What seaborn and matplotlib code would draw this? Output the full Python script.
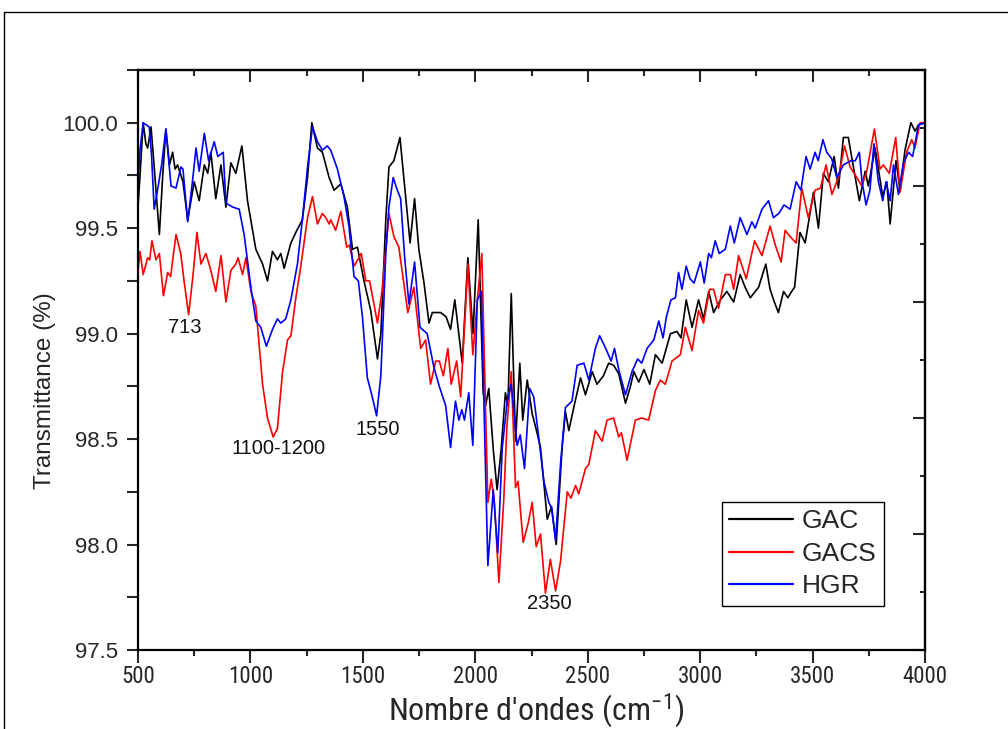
import numpy as np
import pandas as pd
import matplotlib
matplotlib.use("Agg")
import matplotlib.pyplot as plt
from matplotlib import font_manager
from matplotlib.lines import Line2D
from matplotlib.ticker import MultipleLocator, NullFormatter
import seaborn as sns

# ---------------- data ----------------
gac_x = [500, 509, 523, 535, 543, 558, 575, 595, 610, 624, 640, 654, 665, 676, 700, 721, 750, 772, 795, 810,
         824, 846, 869, 891, 913, 935, 962, 987, 1024, 1054, 1076, 1098, 1120, 1135, 1150, 1180, 1202, 1231,
         1254, 1273, 1298, 1320, 1350, 1372, 1402, 1431, 1454, 1476, 1505, 1535, 1565, 1580, 1602, 1616,
         1638, 1665, 1683, 1710, 1730, 1749, 1772, 1794, 1809, 1846, 1870, 1890, 1909, 1942, 1967, 1990,
         2013, 2035, 2046, 2060, 2080, 2097, 2115, 2134, 2145, 2160, 2179, 2198, 2211, 2231, 2253, 2270,
         2290, 2320, 2339, 2360, 2386, 2401, 2416, 2440, 2468, 2490, 2520, 2541, 2570, 2593, 2615, 2638,
         2668, 2690, 2705, 2727, 2750, 2776, 2801, 2831, 2868, 2897, 2915, 2938, 2964, 2993, 3015, 3038,
         3060, 3090, 3119, 3149, 3178, 3200, 3223, 3260, 3292, 3311, 3330, 3348, 3371, 3390, 3407, 3420,
         3444, 3467, 3504, 3526, 3548, 3570, 3596, 3615, 3637, 3659, 3680, 3708, 3734, 3748, 3778, 3812,
         3830, 3845, 3871, 3889, 3911, 3937, 3956, 3971, 4000]
gac_y = [99.60, 99.75, 100.0, 99.90, 99.88, 99.98, 99.75, 99.47, 99.75, 99.97, 99.80, 99.86, 99.78, 99.80,
         99.72, 99.54, 99.72, 99.63, 99.80, 99.76, 99.86, 99.64, 99.80, 99.60, 99.81, 99.76, 99.89, 99.63,
         99.40, 99.33, 99.25, 99.39, 99.35, 99.38, 99.31, 99.43, 99.48, 99.54, 99.74, 100.0, 99.88, 99.86,
         99.74, 99.68, 99.71, 99.60, 99.40, 99.41, 99.25, 99.11, 98.88, 99.00, 99.54, 99.79, 99.82, 99.93,
         99.73, 99.43, 99.64, 99.40, 99.24, 99.05, 99.10, 99.10, 99.08, 99.02, 99.16, 98.86, 99.36, 99.00,
         99.54, 98.72, 98.66, 98.74, 98.45, 98.26, 98.45, 98.72, 98.66, 99.19, 98.49, 98.86, 98.59, 98.78,
         98.62, 98.55, 98.46, 98.12, 98.18, 98.00, 98.46, 98.63, 98.54, 98.66, 98.79, 98.71, 98.82, 98.76,
         98.80, 98.86, 98.85, 98.81, 98.67, 98.75, 98.82, 98.77, 98.83, 98.76, 98.90, 98.86, 99.00, 99.01,
         98.98, 99.16, 99.03, 99.16, 99.07, 99.20, 99.10, 99.16, 99.20, 99.15, 99.28, 99.22, 99.17, 99.22,
         99.33, 99.21, 99.15, 99.10, 99.20, 99.17, 99.20, 99.22, 99.48, 99.43, 99.67, 99.50, 99.76, 99.72,
         99.84, 99.69, 99.93, 99.93, 99.80, 99.63, 99.77, 99.70, 99.88, 99.65, 99.72, 99.52, 99.82, 99.68,
         99.87, 100.0, 99.96, 99.99, 100.0]

gacs_x = [500, 509, 523, 543, 552, 562, 580, 595, 613, 632, 645, 669, 690, 706, 725, 745, 762, 780, 802,
          824, 846, 869, 891, 913, 935, 945, 965, 980, 1002, 1024, 1054, 1076, 1101, 1120, 1143, 1165, 1180,
          1202, 1224, 1254, 1276, 1298, 1320, 1335, 1350, 1357, 1379, 1402, 1428, 1440, 1461, 1493, 1513,
          1530, 1565, 1585, 1616, 1638, 1660, 1700, 1727, 1757, 1779, 1801, 1824, 1840, 1858, 1878, 1893,
          1917, 1935, 1967, 1989, 2009, 2029, 2042, 2056, 2071, 2085, 2105, 2127, 2140, 2160, 2179, 2190,
          2213, 2235, 2253, 2271, 2290, 2312, 2334, 2357, 2379, 2409, 2425, 2446, 2460, 2490, 2505, 2534,
          2564, 2586, 2615, 2638, 2650, 2675, 2712, 2740, 2771, 2801, 2823, 2845, 2875, 2912, 2934, 2964,
          2993, 3015, 3042, 3060, 3082, 3112, 3135, 3149, 3171, 3205, 3242, 3275, 3311, 3334, 3360, 3378,
          3400, 3427, 3452, 3481, 3511, 3535, 3560, 3586, 3615, 3642, 3667, 3697, 3719, 3741, 3775, 3800,
          3815, 3841, 3870, 3889, 3918, 3941, 3955, 3978, 4000]
gacs_y = [99.30, 99.39, 99.28, 99.36, 99.35, 99.44, 99.35, 99.38, 99.18, 99.29, 99.27, 99.47, 99.38, 99.24,
          99.09, 99.28, 99.48, 99.33, 99.38, 99.30, 99.20, 99.37, 99.15, 99.30, 99.33, 99.36, 99.28, 99.36,
          99.20, 99.13, 98.76, 98.60, 98.51, 98.55, 98.82, 98.97, 98.99, 99.17, 99.32, 99.55, 99.65, 99.52,
          99.57, 99.55, 99.52, 99.54, 99.49, 99.58, 99.41, 99.42, 99.32, 99.38, 99.25, 99.25, 99.05, 99.20,
          99.57, 99.46, 99.41, 99.10, 99.22, 98.93, 98.97, 98.76, 98.87, 98.87, 98.80, 98.93, 98.76, 98.87,
          98.70, 99.33, 98.90, 99.16, 99.38, 98.80, 98.20, 98.31, 98.20, 97.82, 98.22, 98.55, 98.82, 98.27,
          98.30, 98.01, 98.10, 98.20, 97.99, 98.05, 97.77, 97.93, 97.78, 97.92, 98.25, 98.22, 98.28, 98.24,
          98.36, 98.38, 98.54, 98.49, 98.59, 98.60, 98.51, 98.53, 98.40, 98.59, 98.60, 98.59, 98.73, 98.78,
          98.76, 98.87, 98.90, 99.03, 98.92, 99.11, 99.05, 99.21, 99.21, 99.12, 99.28, 99.28, 99.21, 99.37,
          99.26, 99.44, 99.37, 99.51, 99.42, 99.34, 99.49, 99.46, 99.43, 99.69, 99.55, 99.68, 99.69, 99.80,
          99.66, 99.74, 99.89, 99.79, 99.74, 99.70, 99.77, 99.97, 99.78, 99.80, 99.76, 99.93, 99.67, 99.86,
          99.92, 99.88, 100.0, 100.0]

hgr_x = [500, 509, 523, 550, 560, 572, 590, 605, 624, 647, 669, 691, 700, 721, 740, 758, 772, 795, 814,
         839, 855, 879, 891, 905, 921, 950, 972, 1002, 1024, 1046, 1071, 1098, 1120, 1135, 1157, 1180, 1209,
         1231, 1254, 1276, 1298, 1320, 1342, 1357, 1387, 1416, 1438, 1461, 1480, 1498, 1520, 1542, 1561,
         1580, 1602, 1616, 1635, 1650, 1668, 1686, 1705, 1730, 1754, 1786, 1816, 1840, 1868, 1890, 1912,
         1927, 1940, 1952, 1971, 1989, 2009, 2027, 2040, 2056, 2080, 2100, 2120, 2142, 2160, 2186, 2200,
         2219, 2242, 2260, 2282, 2305, 2327, 2340, 2357, 2379, 2401, 2430, 2453, 2483, 2505, 2534, 2553,
         2580, 2604, 2619, 2640, 2668, 2697, 2722, 2740, 2764, 2794, 2816, 2835, 2850, 2870, 2890, 2904,
         2919, 2938, 2955, 2973, 3001, 3018, 3038, 3050, 3067, 3085, 3112, 3134, 3152, 3178, 3208, 3230,
         3245, 3275, 3304, 3326, 3350, 3373, 3400, 3427, 3448, 3471, 3489, 3511, 3525, 3546, 3563, 3585,
         3608, 3637, 3670, 3690, 3708, 3720, 3738, 3755, 3773, 3793, 3812, 3827, 3845, 3860, 3882, 3904,
         3927, 3945, 3971, 4000]
hgr_y = [99.70, 99.87, 100.0, 99.98, 99.85, 99.59, 99.70, 99.80, 99.97, 99.70, 99.69, 99.79, 99.78, 99.53,
         99.70, 99.88, 99.77, 99.95, 99.82, 99.91, 99.84, 99.86, 99.62, 99.61, 99.60, 99.59, 99.47, 99.22,
         99.06, 99.03, 98.94, 99.02, 99.07, 99.05, 99.07, 99.16, 99.33, 99.54, 99.79, 99.98, 99.91, 99.87,
         99.89, 99.87, 99.78, 99.65, 99.51, 99.27, 99.25, 99.08, 98.79, 98.70, 98.61, 98.80, 99.38, 99.60,
         99.74, 99.69, 99.64, 99.36, 99.14, 99.34, 99.03, 99.00, 98.84, 98.75, 98.66, 98.46, 98.68, 98.59,
         98.64, 98.59, 98.72, 98.47, 99.16, 99.20, 98.60, 97.90, 98.26, 97.96, 98.46, 98.68, 98.76, 98.47,
         98.52, 98.36, 98.74, 98.70, 98.51, 98.30, 98.20, 98.17, 98.02, 98.38, 98.65, 98.68, 98.85, 98.86,
         98.78, 98.93, 98.99, 98.93, 98.87, 98.93, 98.82, 98.71, 98.82, 98.88, 98.86, 98.93, 98.97, 99.06,
         98.98, 99.08, 99.16, 99.17, 99.29, 99.21, 99.32, 99.26, 99.24, 99.34, 99.24, 99.38, 99.36, 99.44,
         99.38, 99.40, 99.51, 99.43, 99.55, 99.47, 99.53, 99.50, 99.59, 99.63, 99.55, 99.57, 99.61, 99.59,
         99.72, 99.68, 99.84, 99.78, 99.86, 99.82, 99.92, 99.86, 99.83, 99.74, 99.80, 99.82, 99.82, 99.86,
         99.72, 99.61, 99.68, 99.90, 99.72, 99.63, 99.72, 99.63, 99.80, 99.66, 99.81, 99.86, 99.84, 99.99,
         100.0]

series_names = ["GAC", "GACS", "HGR"]
series_colors = ["black", "red", "blue"]

annot_text = ["713", "1100-1200", "1550", "2350"]
annot_x = [709, 1127, 1567, 2328]
annot_y = [99.03, 98.455, 98.545, 97.72]

x_ticks = [500, 1000, 1500, 2000, 2500, 3000, 3500, 4000]
y_ticks = [97.5, 98.0, 98.5, 99.0, 99.5, 100.0]

# ---------------- style ----------------
sns.set_style("white")
names = {f.name for f in font_manager.fontManager.ttflist}
regular = "Liberation Sans" if "Liberation Sans" in names else "DejaVu Sans"
narrow = None
for cand in ["Liberation Sans Narrow", "Arial Narrow", "Roboto Condensed", "DejaVu Sans Condensed",
             "Open Sans Condensed", "Noto Sans Condensed"]:
    if cand in names:
        narrow = cand
        break
plt.rcParams["font.family"] = [regular, "DejaVu Sans"]
plt.rcParams["mathtext.default"] = "regular"

if narrow is None:
    narrow_family = regular
    xtick_size, xlabel_size = 15, 21
else:
    narrow_family = narrow
    xtick_size, xlabel_size = 16.5, 23

df = pd.concat([
    pd.DataFrame({"x": gac_x, "y": gac_y, "s": "GAC"}),
    pd.DataFrame({"x": gacs_x, "y": gacs_y, "s": "GACS"}),
    pd.DataFrame({"x": hgr_x, "y": hgr_y, "s": "HGR"}),
], ignore_index=True)

fig = plt.figure(figsize=(10.08, 7.29), dpi=100)
ax = fig.add_axes([138 / 1008, 1 - 650 / 729, 787 / 1008, 580 / 729])

sns.lineplot(data=df, x="x", y="y", hue="s", hue_order=series_names,
             palette=dict(zip(series_names, series_colors)), estimator=None,
             sort=True, linewidth=1.2, ax=ax, legend=True)

ax.set_xlim(500, 4000)
ax.set_ylim(97.5, 100.25)

for s in ax.spines.values():
    s.set_visible(True)
    s.set_linewidth(1.6)
    s.set_color("black")

ax.set_xticks(x_ticks)
ax.xaxis.set_minor_locator(MultipleLocator(250))
ax.set_yticks(y_ticks)
ax.yaxis.set_minor_locator(MultipleLocator(0.25))
ax.set_yticklabels([f"{v:.1f}" for v in y_ticks])
ax.tick_params(axis="x", which="major", direction="out", length=9, width=1.5,
               labelsize=xtick_size, pad=2, top=False, bottom=True)
ax.tick_params(axis="x", which="minor", direction="out", length=4.5, width=1.5,
               top=False, bottom=True)
ax.tick_params(axis="y", which="both", direction="out", length=8, width=1.5,
               labelsize=16, pad=6.5, left=True, right=False)
for lab in ax.get_xticklabels():
    lab.set_fontfamily(narrow_family)

# top: ticks pointing inward, no labels
top = ax.secondary_xaxis("top")
top.set_xticks(x_ticks)
top.xaxis.set_minor_locator(MultipleLocator(250))
top.xaxis.set_major_formatter(NullFormatter())
top.tick_params(which="major", direction="in", length=8.5, width=1.5)
top.tick_params(which="minor", direction="in", length=4.3, width=1.5)
top.spines["top"].set_linewidth(1.6)

# right: a second scale, ticks inward, no labels
right = ax.secondary_yaxis("right", functions=(lambda v: (v - 97.5) / 2.75 * 5,
                                                lambda u: 97.5 + u * 2.75 / 5))
right.yaxis.set_major_locator(MultipleLocator(1))
right.yaxis.set_minor_locator(MultipleLocator(0.5))
right.yaxis.set_major_formatter(NullFormatter())
right.tick_params(which="major", direction="in", length=8.5, width=1.5)
right.tick_params(which="minor", direction="in", length=3.5, width=1.5)
right.spines["right"].set_linewidth(1.6)

ax.set_xlabel("Nombre d'ondes (cm$^{-1}$)", fontsize=xlabel_size, fontfamily=narrow_family)
ax.xaxis.set_label_coords(0.506, -0.07)
ax.set_ylabel("Transmittance (%)", fontsize=17.5)
ax.yaxis.set_label_coords(-0.104, 0.448)

for t, xv, yv in zip(annot_text, annot_x, annot_y):
    ax.text(xv, yv, t, fontsize=14.5, ha="center", va="center", color="#111111")

handles, labels = ax.get_legend_handles_labels()
leg = ax.legend(handles, labels, loc="upper left", bbox_to_anchor=(0.742, 0.255),
                borderaxespad=0, fontsize=19, frameon=True, fancybox=False,
                framealpha=1, edgecolor="black", handlelength=2.4, handletextpad=0.35,
                labelspacing=0.32, borderpad=0.28)
leg.get_frame().set_linewidth(1.0)
for h in leg.legend_handles:
    h.set_linewidth(1.6)

# outer frame of the figure (top and left edges)
fig.add_artist(Line2D([4 / 1008, 1.0], [1 - 12 / 729, 1 - 12 / 729], color="black", lw=1,
                      transform=fig.transFigure))
fig.add_artist(Line2D([4 / 1008, 4 / 1008], [0, 1 - 12 / 729], color="black", lw=1,
                      transform=fig.transFigure))

fig.savefig("out.png", dpi=100)
